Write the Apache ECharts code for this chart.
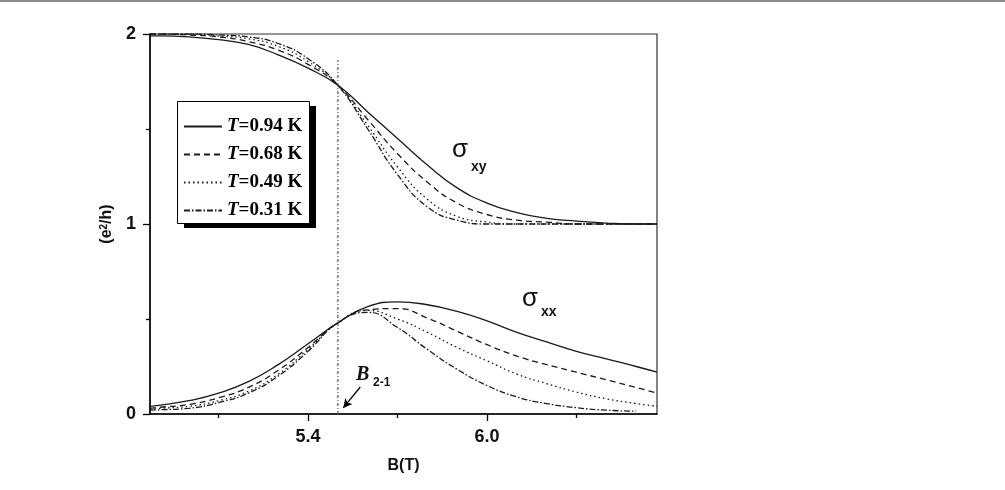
<!DOCTYPE html>
<html>
<head>
<meta charset="utf-8">
<script src="https://cdn.jsdelivr.net/npm/echarts@6/dist/echarts.min.js"></script>
<style>
  html, body { margin: 0; background: #fff; }
  #chart { width: 1005px; height: 490px; }
</style>
</head>
<body>
<div id="chart"></div>
<script>
// magnetic field values (T)
const fieldB = [4.87, 4.9, 5.0, 5.1, 5.2, 5.3, 5.4, 5.5, 5.6, 5.7, 5.8, 5.9, 6.0, 6.1, 6.2, 6.3, 6.4, 6.5, 6.57];
const temps = ["0.94", "0.68", "0.49", "0.31"];

// sigma_xy, e^2/h
const sxy094 = [1.99, 1.99, 1.985, 1.97, 1.945, 1.89, 1.82, 1.73, 1.59, 1.45, 1.31, 1.19, 1.11, 1.06, 1.03, 1.015, 1.005, 1.0, 1.0];
const sxy068 = [2.0, 2.0, 1.995, 1.985, 1.96, 1.915, 1.84, 1.73, 1.55, 1.37, 1.22, 1.11, 1.05, 1.02, 1.01, 1.0, 1.0, 1.0, 1.0];
const sxy049 = [2.0, 2.0, 2.0, 1.99, 1.975, 1.935, 1.855, 1.73, 1.52, 1.3, 1.13, 1.04, 1.01, 1.0, 1.0, 1.0, 1.0, 1.0, 1.0];
const sxy031 = [2.0, 2.0, 2.0, 1.995, 1.985, 1.95, 1.87, 1.73, 1.5, 1.26, 1.09, 1.02, 1.0, 1.0, 1.0, 1.0, 1.0, 1.0, 1.0];

// sigma_xx, e^2/h
const sxx094 = [0.04, 0.045, 0.07, 0.11, 0.17, 0.26, 0.37, 0.48, 0.565, 0.59, 0.575, 0.54, 0.49, 0.43, 0.38, 0.33, 0.29, 0.25, 0.22];
const sxx068 = [0.03, 0.035, 0.05, 0.085, 0.14, 0.23, 0.35, 0.48, 0.548, 0.555, 0.505, 0.435, 0.365, 0.305, 0.26, 0.22, 0.18, 0.14, 0.11];
const sxx049 = [0.025, 0.03, 0.04, 0.07, 0.12, 0.21, 0.34, 0.48, 0.545, 0.5, 0.43, 0.35, 0.28, 0.21, 0.16, 0.115, 0.08, 0.055, 0.04];
const sxx031 = [0.02, 0.022, 0.03, 0.06, 0.11, 0.2, 0.33, 0.48, 0.535, 0.455, 0.34, 0.235, 0.15, 0.09, 0.055, 0.033, 0.02, 0.015, null];

// B_2-1 marker and arrow
const markerB = 5.5;
const markerTop = 1.863;
const arrowFrom = [5.575, 0.142];
const arrowTo = [5.518, 0.032];

const xTickLabels = [5.4, 6.0];
const xMinorTicks = [5.1, 5.7, 6.3];

const dashes = ["solid", [6, 4], [1.5, 3], [6, 2, 1.5, 2]];
const xyData = [sxy094, sxy068, sxy049, sxy031];
const xxData = [sxx094, sxx068, sxx049, sxx031];

const pairs = (vals) => fieldB.map((b, i) => [b, vals[i]]);
const seriesName = (t) => "T=" + t + " K";

const curve = (vals, k) => ({
  name: seriesName(temps[k]),
  type: "line",
  data: pairs(vals),
  smooth: true,
  showSymbol: false,
  symbol: "none",
  lineStyle: { color: "#1a1a1a", width: 1.3, type: dashes[k] },
  itemStyle: { color: "#1a1a1a" },
  silent: true,
  z: 3,
});

const series = [];
xyData.forEach((v, k) => series.push(curve(v, k)));
xxData.forEach((v, k) => series.push(curve(v, k)));
series.push({
  name: "marker",
  type: "line",
  data: [[markerB, 0], [markerB, markerTop]],
  showSymbol: false,
  symbol: "none",
  lineStyle: { color: "#666", width: 1.3, type: [3, 2, 1, 2] },
  silent: true,
  z: 2,
  markLine: {
    silent: true,
    symbol: ["none", "arrow"],
    symbolSize: [7, 9],
    label: { show: false },
    lineStyle: { color: "#000", width: 1.3, type: "solid" },
    data: [[{ coord: arrowFrom }, { coord: arrowTo }]],
  },
});

const chart = echarts.init(document.getElementById("chart"));
chart.setOption({
  animation: false,
  backgroundColor: "#fff",
  grid: {
    left: 150, right: 348, top: 34, bottom: 76,
    show: true, borderColor: "#333", borderWidth: 1.2,
  },
  legend: {
    data: temps.map(seriesName),
    orient: "vertical",
    left: 177,
    top: 101,
    padding: [16, 5, 10, 6],
    itemWidth: 38,
    itemHeight: 16,
    itemGap: 9,
    z: 10,
    selectedMode: false,
    itemStyle: { color: "rgba(0,0,0,0)", borderColor: "rgba(0,0,0,0)", borderWidth: 0, opacity: 0 },
    formatter: (name) => "{i|T}{r|" + name.slice(1) + "}",
    textStyle: {
      rich: {
        i: { fontFamily: "Liberation Serif", fontStyle: "italic", fontWeight: "bold", fontSize: 19, lineHeight: 16, color: "#000" },
        r: { fontFamily: "Liberation Serif", fontWeight: "bold", fontSize: 19, lineHeight: 16, color: "#000" },
      },
    },
  },
  xAxis: [
    {
      type: "value",
      min: 4.87,
      max: 6.57,
      name: "B(T)",
      nameLocation: "middle",
      nameGap: 44,
      nameTextStyle: { fontFamily: "Liberation Sans", fontWeight: "bold", fontSize: 16, color: "#111" },
      axisLine: { onZero: false, lineStyle: { color: "#000", width: 1.5 } },
      axisTick: { customValues: xTickLabels, length: 7, lineStyle: { color: "#000", width: 1.3 } },
      axisLabel: {
        customValues: xTickLabels,
        margin: 14,
        formatter: (v) => v.toFixed(1),
        fontFamily: "Liberation Sans", fontWeight: "bold", fontSize: 18, color: "#111",
      },
      splitLine: { show: false },
    },
    {
      type: "value",
      min: 4.87,
      max: 6.57,
      position: "bottom",
      axisLine: { show: false },
      axisTick: { customValues: xMinorTicks, length: 4, lineStyle: { color: "#000", width: 1.3 } },
      axisLabel: { show: false },
      splitLine: { show: false },
    },
  ],
  yAxis: {
    type: "value",
    min: 0,
    max: 2,
    interval: 1,
    name: "(e{sup|2}/h)",
    nameLocation: "middle",
    nameRotate: 90,
    nameGap: 24,
    nameTextStyle: {
      fontFamily: "Liberation Sans", fontWeight: "bold", fontSize: 16, color: "#111",
      rich: { sup: { fontFamily: "Liberation Sans", fontWeight: "bold", fontSize: 10, verticalAlign: "top", lineHeight: 14, color: "#111" } },
    },
    axisLine: { show: true, lineStyle: { color: "#000", width: 1.5 } },
    axisTick: { length: 7, lineStyle: { color: "#000", width: 1.3 } },
    minorTick: { show: true, splitNumber: 2, length: 4, lineStyle: { color: "#000", width: 1.3 } },
    axisLabel: { margin: 14, fontFamily: "Liberation Sans", fontWeight: "bold", fontSize: 18, color: "#111" },
    splitLine: { show: false },
  },
  graphic: [
    { type: "rect", left: 0, top: 0, shape: { width: 1005, height: 2 }, style: { fill: "#8a8a8a" }, silent: true },
    // legend frame with its drop shadow
    { type: "rect", z: 5, shape: { x: 184, y: 106, width: 132, height: 122 }, style: { fill: "#000" }, silent: true },
    { type: "rect", z: 6, shape: { x: 177.5, y: 101.5, width: 132, height: 122 }, style: { fill: "#fff", stroke: "#000", lineWidth: 1 }, silent: true },
    { type: "text", x: 452, y: 150, style: { text: "σ", fontFamily: "Liberation Sans", fontSize: 26, fill: "#111", verticalAlign: "middle" }, silent: true },
    { type: "text", x: 471, y: 167, style: { text: "xy", fontFamily: "Liberation Sans", fontWeight: "bold", fontSize: 14, fill: "#111", verticalAlign: "middle" }, silent: true },
    { type: "text", x: 522, y: 299, style: { text: "σ", fontFamily: "Liberation Sans", fontSize: 26, fill: "#111", verticalAlign: "middle" }, silent: true },
    { type: "text", x: 541, y: 312, style: { text: "xx", fontFamily: "Liberation Sans", fontWeight: "bold", fontSize: 14, fill: "#111", verticalAlign: "middle" }, silent: true },
    { type: "text", x: 356, y: 375, style: { text: "B", fontFamily: "Liberation Serif", fontStyle: "italic", fontWeight: "bold", fontSize: 20, fill: "#111", verticalAlign: "middle" }, silent: true },
    { type: "text", x: 373, y: 383, style: { text: "2-1", fontFamily: "Liberation Sans", fontWeight: "bold", fontSize: 12, fill: "#111", verticalAlign: "middle" }, silent: true },
  ],
  series: series,
});
</script>
</body>
</html>
